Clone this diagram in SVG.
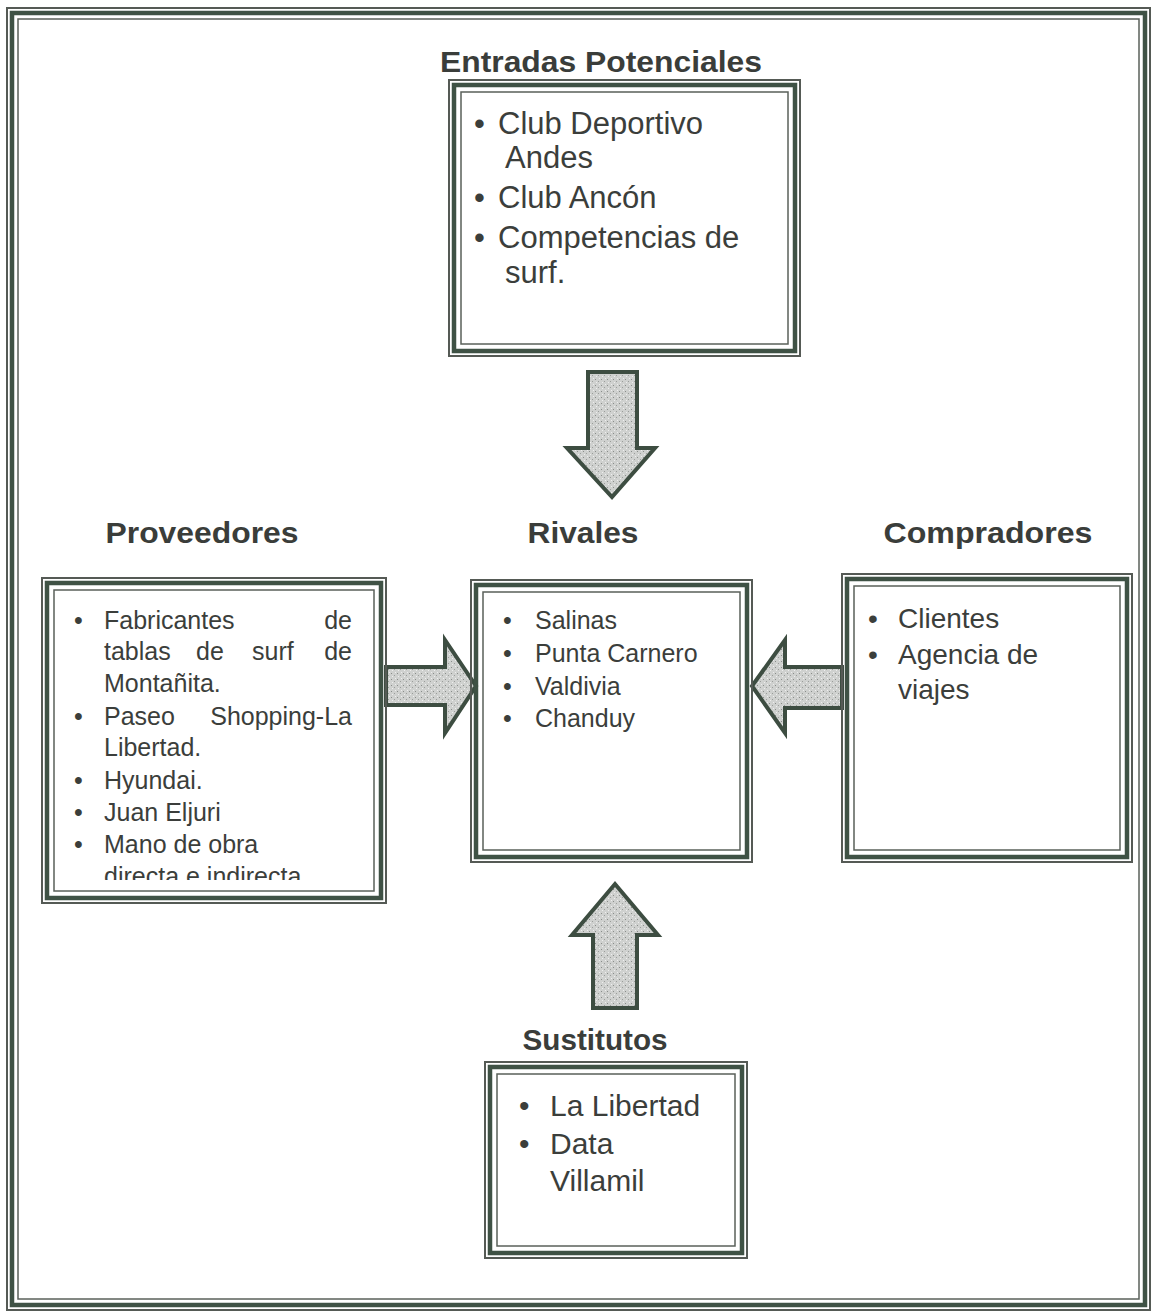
<svg xmlns="http://www.w3.org/2000/svg" width="1155" height="1316" viewBox="0 0 1155 1316">
<defs>
<style>
.o{fill:none;stroke:#555a55;stroke-width:2}
.m{fill:none;stroke:#3f5245;stroke-width:4.5}
.i{fill:none;stroke:#5a605a;stroke-width:1.5}
.t{font-family:"Liberation Sans",Arial,sans-serif;font-weight:bold;font-size:30px;fill:#3a3d3a;text-anchor:middle}
.x{font-family:"Liberation Sans",Arial,sans-serif;fill:#3b3e3b}
.arw{fill:url(#stip);stroke:#3d4d41;stroke-width:4;stroke-linejoin:miter}
</style>
<pattern id="stip" width="6" height="6" patternUnits="userSpaceOnUse">
<rect width="6" height="6" fill="#cfd1cf"/>
<rect x="1" y="1" width="1" height="1" fill="#8a8d8a"/>
<rect x="4" y="3" width="1" height="1" fill="#9a9d9a"/>
<rect x="2" y="4" width="1" height="1" fill="#eeeeee"/>
<rect x="5" y="0" width="1" height="1" fill="#eeeeee"/>
</pattern>
<clipPath id="provClip"><rect x="52" y="588" width="324" height="292"/></clipPath>
</defs>
<rect width="1155" height="1316" fill="#ffffff"/>

<g id="frame">
<rect class="o" x="7" y="8" width="1143" height="1302"/>
<rect class="m" x="12" y="13" width="1133" height="1292"/>
<rect class="i" x="18" y="19" width="1121" height="1280"/>
</g>

<g id="connectors">
<polygon class="arw" points="588,372 637,372 637,448 655,448 612,497 567,448 588,448"/>
<polygon class="arw" points="386,667 445,667 445,640 476,686 445,733 445,705 386,705"/>
<polygon class="arw" points="842,667 785,667 785,640 752,686 785,733 785,708 842,708"/>
<polygon class="arw" points="593,1008 593,935 572,935 615,884 658,935 637,935 637,1008"/>
</g>

<g id="entradas">
<text class="t" x="601" y="72" textLength="322" lengthAdjust="spacingAndGlyphs">Entradas Potenciales</text>
<rect class="o" x="449" y="80" width="351" height="276"/>
<rect class="m" x="454" y="85" width="341" height="266"/>
<rect class="i" x="461" y="92" width="327" height="252"/>
<g class="x" font-size="31">
<text x="474" y="134">•</text><text x="498" y="134">Club Deportivo</text>
<text x="505" y="168">Andes</text>
<text x="474" y="208">•</text><text x="498" y="208">Club Ancón</text>
<text x="474" y="248">•</text><text x="498" y="248">Competencias de</text>
<text x="505" y="283">surf.</text>
</g>
</g>

<g id="proveedores">
<text class="t" x="202" y="543" textLength="193" lengthAdjust="spacingAndGlyphs">Proveedores</text>
<rect class="o" x="42" y="578" width="344" height="325"/>
<rect class="m" x="47" y="583" width="334" height="315"/>
<rect class="i" x="54" y="590" width="320" height="301"/>
<g class="x" font-size="25" clip-path="url(#provClip)">
<text x="74" y="629">•</text><text x="104" y="629">Fabricantes</text><text x="352" y="629" text-anchor="end">de</text>
<text x="104" y="660">tablas</text><text x="196" y="660">de</text><text x="252" y="660">surf</text><text x="352" y="660" text-anchor="end">de</text>
<text x="104" y="692">Montañita.</text>
<text x="74" y="725">•</text><text x="104" y="725">Paseo</text><text x="352" y="725" text-anchor="end">Shopping-La</text>
<text x="104" y="756">Libertad.</text>
<text x="74" y="789">•</text><text x="104" y="789">Hyundai.</text>
<text x="74" y="821">•</text><text x="104" y="821">Juan Eljuri</text>
<text x="74" y="853">•</text><text x="104" y="853">Mano de obra</text>
<text x="104" y="885">directa e indirecta</text>
</g>
</g>

<g id="rivales">
<text class="t" x="583" y="543" textLength="111" lengthAdjust="spacingAndGlyphs">Rivales</text>
<rect class="o" x="471" y="580" width="281" height="282"/>
<rect class="m" x="476" y="585" width="271" height="272"/>
<rect class="i" x="483" y="592" width="257" height="258"/>
<g class="x" font-size="25">
<text x="503" y="629">•</text><text x="535" y="629">Salinas</text>
<text x="503" y="662">•</text><text x="535" y="662">Punta Carnero</text>
<text x="503" y="695">•</text><text x="535" y="695">Valdivia</text>
<text x="503" y="727">•</text><text x="535" y="727">Chanduy</text>
</g>
</g>

<g id="compradores">
<text class="t" x="988" y="543" textLength="209" lengthAdjust="spacingAndGlyphs">Compradores</text>
<rect class="o" x="842" y="574" width="290" height="288"/>
<rect class="m" x="847" y="579" width="280" height="278"/>
<rect class="i" x="854" y="586" width="266" height="264"/>
<g class="x" font-size="28">
<text x="868" y="628">•</text><text x="898" y="628">Clientes</text>
<text x="868" y="664">•</text><text x="898" y="664">Agencia de</text>
<text x="898" y="699">viajes</text>
</g>
</g>

<g id="sustitutos">
<text class="t" x="595" y="1050" textLength="145" lengthAdjust="spacingAndGlyphs">Sustitutos</text>
<rect class="o" x="485" y="1062" width="262" height="196"/>
<rect class="m" x="490" y="1067" width="252" height="186"/>
<rect class="i" x="497" y="1074" width="238" height="172"/>
<g class="x" font-size="30">
<text x="519" y="1116">•</text><text x="550" y="1116">La Libertad</text>
<text x="519" y="1154">•</text><text x="550" y="1154">Data</text>
<text x="550" y="1191">Villamil</text>
</g>
</g>
</svg>
